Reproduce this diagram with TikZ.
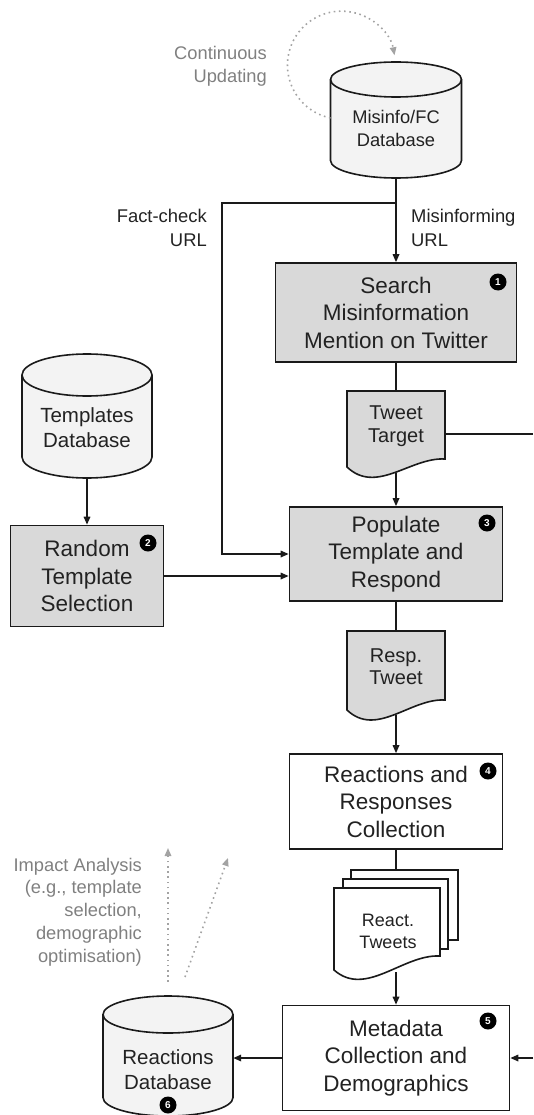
\documentclass[tikz,border=0pt]{standalone}
\usepackage{fontspec}
\setmainfont{Liberation Sans}
\usetikzlibrary{arrows.meta}

\definecolor{linec}{HTML}{1A1A1A}
\definecolor{textc}{HTML}{222222}
\definecolor{boxgray}{HTML}{D9D9D9}
\definecolor{dbfill}{HTML}{F3F3F3}
\definecolor{notec}{HTML}{808080}
\definecolor{dotc}{HTML}{A3A3A3}

\newcommand\fBox{\fontsize{22.5}{27.5}\selectfont}
\newcommand\fDbSmall{\fontsize{18.3}{23}\selectfont}
\newcommand\fDb{\fontsize{20.5}{25}\selectfont}
\newcommand\fDoc{\fontsize{20}{22.5}\selectfont}
\newcommand\fDocSmall{\fontsize{18}{22}\selectfont}
\newcommand\fNote{\fontsize{18.3}{22.8}\selectfont}

% database cylinder: name, centre x, top y, bottom y, x radius, y radius
\newcommand{\dbcyl}[6]{%
  \draw[shapeline, fill=dbfill] (#2-#5,#3+#6) -- (#2-#5,#4-#6)
    arc[start angle=180, end angle=0, x radius=#5, y radius=#6]
    -- (#2+#5,#3+#6)
    arc[start angle=0, end angle=-180, x radius=#5, y radius=#6] -- cycle;
  \draw[shapeline] (#2-#5,#3+#6)
    arc[start angle=180, end angle=0, x radius=#5, y radius=#6];
  \node[inner sep=0, minimum width=2*#5, minimum height=#4-#3] (#1) at (#2,{(#3+#4)/2}) {};
}

% document page with a wavy lower edge: left x, right x, top y, left corner y, right corner y, fill
\newcommand{\docpage}[6]{%
  \draw[shapeline, fill=#6] (#1,#3) -- (#2,#3) -- (#2,#5)
    .. controls ({#1+0.65*(#2-#1)},{#5-2}) and ({#1+0.3*(#2-#1)},{#4+28}) .. (#1,#4) -- cycle;
}

\begin{document}
\begin{tikzpicture}[x=1pt, y=-1pt,
  shapeline/.style={draw=linec, line width=1.6pt},
  procbox/.style={shapeline, fill=#1, inner sep=0, align=center, font=\fBox, text=textc},
  procbox/.default=white,
  ln/.style={draw=linec, line width=1.6pt},
  arr/.style={ln, -{Triangle[length=8pt, width=6.5pt]}},
  dotarr/.style={draw=dotc, line width=1.6pt, dash pattern=on 1.6pt off 3.6pt,
    -{Triangle[length=8pt, width=6.5pt, fill=dotc]}},
  badge/.style={circle, fill=black, text=white, inner sep=0, minimum size=17pt,
    font=\bfseries\fontsize{10}{10}\selectfont},
  note/.style={inner sep=0, text=notec, font=\fNote},
  lbl/.style={inner sep=0, text=textc, font=\fontsize{18.4}{24}\selectfont},
  txt/.style={inner sep=0, text=textc, align=center}
]
\useasboundingbox (0,0) rectangle (533,1115);
\clip (0,0) rectangle (533,1115);

% ---------- databases ----------
\dbcyl{mdb}{396}{62}{178}{65.5}{17.5}
\node[txt, font=\fDbSmall] (mdbt) at (396,128.5) {Misinfo/FC\\Database};

\dbcyl{tdb}{87}{354}{478}{65}{21}
\node[txt, font=\fDb] (tdbt) at (87,427.5) {Templates\\Database};

\dbcyl{rdb}{168}{996}{1116}{65}{18.5}
\node[txt, font=\fDb] (rdbt) at (168,1069.5) {Reactions\\Database};

% ---------- process boxes ----------
\node[procbox=boxgray, minimum width=241, minimum height=99] (search) at (396,312.5)
  {Search\\Misinformation\\Mention on Twitter};
\node[procbox=boxgray, minimum width=213, minimum height=94] (pop) at (396,554)
  {Populate\\Template and\\Respond};
\node[procbox=boxgray, minimum width=153, minimum height=101] (rand) at (87,576)
  {Random\\Template\\Selection};
\node[procbox, minimum width=213, minimum height=95] (react) at (396,801.5)
  {Reactions and\\Responses\\Collection};
\node[procbox, minimum width=227, minimum height=105] (meta) at (396,1058)
  {Metadata\\Collection and\\Demographics};

% ---------- documents ----------
\docpage{347}{445}{391}{467}{459}{boxgray}
\node[inner sep=0, minimum width=98, minimum height=86] (tt) at (396,434) {};
\node[txt, font=\fDoc] (ttt) at (396,426) {Tweet\\Target};
\coordinate (tt-b) at (396,473);

\docpage{347}{445}{631}{710}{700}{boxgray}
\node[inner sep=0, minimum width=98, minimum height=86] (resp) at (396,674) {};
\node[txt, font=\fDoc] (respt) at (396,666.5) {Resp.\\Tweet};
\coordinate (resp-b) at (396,714.5);

% stacked reaction tweets
\draw[shapeline, fill=white] (351,870) rectangle (458,940);
\draw[shapeline, fill=white] (343,879) rectangle (448,949);
\docpage{334}{440}{888}{970}{956}{white}
\node[inner sep=0, minimum width=124, minimum height=105] (rt) at (396,922.5) {};
\node[txt, font=\fDocSmall] (rtt) at (388,931) {React.\\Tweets};
\coordinate (rt-b) at (396,972);

% ---------- badges ----------
\node[badge] (b1) at (498,282) {1};
\node[badge] (b2) at (148,543) {2};
\node[badge] (b3) at (487,523) {3};
\node[badge] (b4) at (488,771) {4};
\node[badge] (b5) at (488,1021) {5};
\node[badge] (b6) at (168,1105) {6};

% ---------- labels ----------
\node[note, anchor=east, align=right] (cu) at (267,66.5) {Continuous\\Updating};
\node[lbl, anchor=east, align=right] (fcl) at (207,228) {Fact-check\\URL};
\node[lbl, anchor=west, align=left] (mul) at (411,228) {Misinforming\\URL};
\node[note, anchor=east, align=right] (ial) at (142,912)
  {Impact Analysis\\(e.g., template\\selection,\\demographic\\optimisation)};

% ---------- connectors ----------
\coordinate (split) at (396,203);
\coordinate (fccorner) at (222,203);
\coordinate (ttout) at (533,434);
\coordinate (metain) at (533,1058);

\draw[arr] (mdb.south) -- (search.north);
\draw[arr] (split) -- (fccorner) |- (pop.west);
\draw[ln] (search.south) -- (tt.north);
\draw[ln] (tt.east) -- (ttout);
\draw[arr] (tt-b) -- (pop.north);
\draw[arr] (tdb.south) -- (rand.north);
\draw[arr] (rand.east) -- (pop.west |- rand.east);
\draw[ln] (pop.south) -- (resp.north);
\draw[arr] (resp-b) -- (react.north);
\draw[ln] (react.south) -- (rt.north);
\draw[arr] (rt-b) -- (meta.north);
\draw[arr] (metain) -- (meta.east);
\draw[arr] (meta.west) -- (rdb.east |- meta.west);

% continuous updating loop
\coordinate (loopstart) at (330.5,118);
\draw[dotarr] (loopstart) arc[start angle=101.7, end angle=349.5, radius=54];

% impact analysis outputs
\coordinate (ia1s) at (168,982);
\coordinate (ia1e) at (168,848);
\coordinate (ia2s) at (185,977);
\coordinate (ia2e) at (228,858);
\draw[dotarr] (ia1s) -- (ia1e);
\draw[dotarr] (ia2s) -- (ia2e);
\end{tikzpicture}
\end{document}
